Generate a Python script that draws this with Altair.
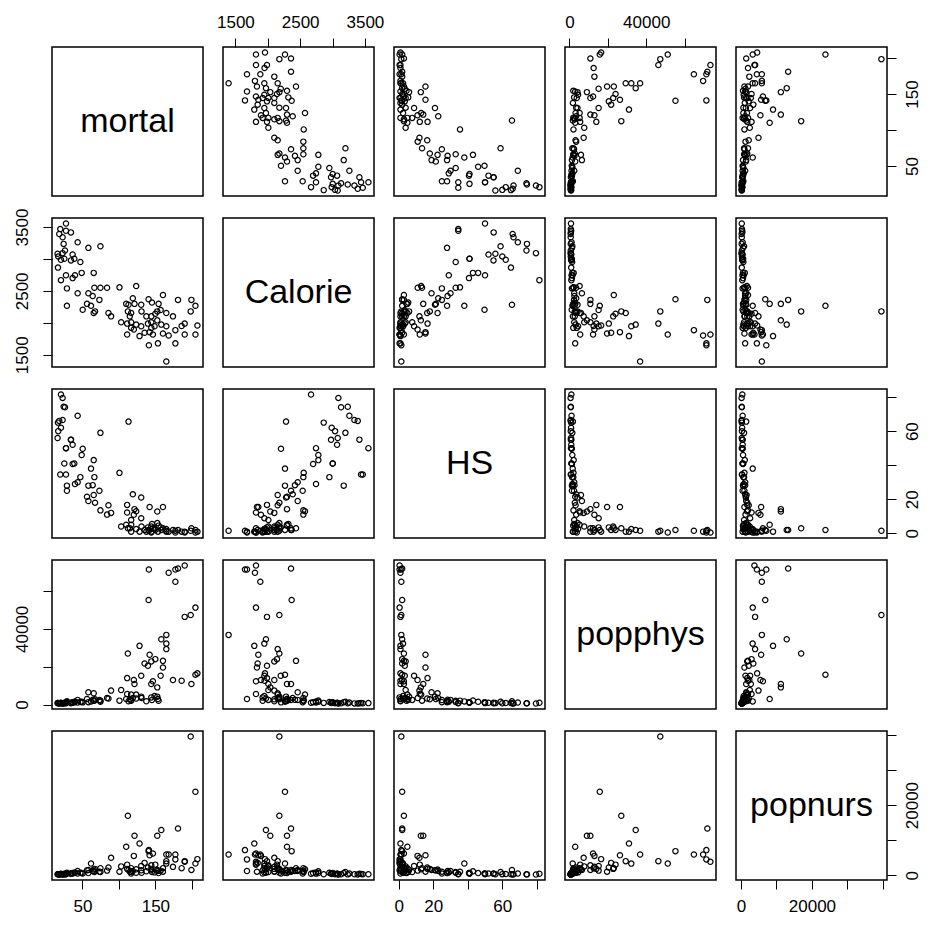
import altair as alt
import pandas as pd

# Country-level health indicators (one entry per country)
mortal = [
    27.5, 19.7, 27.5, 34.3, 18.3, 43.5, 58.2, 74.7, 16.0, 16.9,
    22.9, 26.1, 20.6, 25.2, 36.6, 38.9, 47.2, 16.5, 20.6, 27.5,
    39.8, 49.0, 65.5, 28.8, 43.5, 58.2, 66.4, 74.7, 83.8, 28.8,
    50.4, 56.3, 61.8, 65.5, 67.3, 73.3, 85.7, 89.3, 22.9, 24.3,
    34.3, 64.1, 36.6,
    100.8, 103.1, 110.0, 112.3, 111.3, 111.3, 113.2, 116.8, 116.8, 119.1,
    120.5, 121.4, 123.7, 123.7, 128.3, 130.6, 130.6, 135.2, 139.8, 140.7,
    141.1, 142.1, 144.4, 144.4, 145.3, 146.6, 149.9, 152.6, 152.6, 153.5,
    154.4, 158.1, 160.4, 160.4, 165.0, 165.0, 165.0, 168.2, 174.1, 177.4,
    177.4, 181.0, 190.2, 190.2, 198.4, 199.4, 207.6, 204.9, 204.9, 115.0,
    131.0, 137.6, 148.9, 116.8, 144.4, 186.0, 157.2,
]
calorie = [
    3554, 3467, 3441, 3415, 3389, 3260, 3173, 3199, 3080, 3039,
    3090, 3132, 2987, 3003, 3070, 3003, 2951, 2864, 2668, 2745,
    2745, 2781, 2781, 2539, 2462, 2462, 2549, 2549, 2549, 2266,
    2204, 2297, 2266, 2153, 2179, 2359, 2153, 2101, 3338, 3235,
    2977, 2420, 2700,
    2555, 2009, 2297, 2179, 1988, 1818, 2282, 2153, 2009, 2385,
    1895, 2297, 2575, 1972, 1792, 2282, 1947, 1844, 1988, 2369,
    1648, 1854, 2101, 2009, 2318, 1818, 2142, 2179, 2039, 1679,
    2297, 1972, 2436, 1833, 2153, 1947, 1395, 1802, 2101, 1885,
    1679, 2359, 1988, 1818, 2179, 2359, 1957, 1818, 2266, 2101,
    2179, 2101, 1947, 1921, 1921, 1950, 2200,
]
hs = [
    50.0, 34.5, 34.5, 55.0, 66.0, 69.0, 28.0, 59.0, 56.0, 60.0,
    79.5, 74.0, 62.0, 41.0, 52.0, 41.0, 33.0, 65.0, 81.5, 50.0,
    29.0, 46.0, 43.0, 25.0, 30.0, 19.0, 33.0, 13.5, 11.0, 28.0,
    49.7, 21.5, 38.0, 22.5, 18.0, 25.0, 16.5, 12.0, 66.5, 74.3,
    54.9, 28.3, 40.7,
    35.5, 4.0, 5.0, 3.0, 16.7, 12.2, 65.6, 5.0, 7.8, 22.9,
    10.9, 14.2, 13.0, 2.5, 1.0, 21.0, 8.9, 2.0, 3.5, 2.0,
    1.5, 15.5, 4.0, 1.0, 5.5, 3.0, 2.0, 6.0, 12.8, 1.0,
    4.5, 2.0, 3.0, 15.5, 1.0, 2.5, 1.5, 1.0, 2.0, 1.5,
    0.5, 2.0, 1.0, 0.5, 1.5, 3.0, 1.0, 0.5, 2.0, 3.0,
    4.0, 1.0, 2.5, 1.0, 0.5, 1.0, 3.5,
]
popphys = [
    800, 700, 900, 750, 650, 1100, 1300, 1500, 800, 700,
    600, 700, 850, 1000, 950, 1200, 1400, 900, 1000, 1100,
    1600, 1500, 2200, 1300, 2500, 6500, 2000, 2100, 3500, 1800,
    1200, 3000, 1700, 6000, 2800, 2400, 3200, 7400, 650, 700,
    1000, 2600, 1300,
    2100, 7700, 3000, 27000, 14000, 5600, 1800, 5300, 2500, 3500,
    13000, 10900, 5300, 3200, 31000, 4200, 15200, 21700, 20500, 55200,
    71300, 26300, 22800, 10900, 2450, 12300, 24000, 4200, 9100, 3000,
    2000, 34500, 23100, 19600, 29300, 32200, 36800, 69600, 13000, 64800,
    71300, 71800, 46300, 73400, 47300, 10900, 16500, 51200, 15800, 2800,
    3500, 1800, 4500, 2000, 3800, 12600, 15200,
]
popnurs = [
    250, 300, 350, 400, 220, 500, 600, 900, 250, 300,
    200, 280, 350, 420, 500, 650, 700, 260, 400, 450,
    800, 600, 1100, 500, 1200, 1500, 900, 2000, 1300, 700,
    500, 1400, 3330, 1600, 1800, 1000, 2200, 4950, 250, 230,
    500, 1200, 600,
    1000, 2500, 8100, 16960, 1800, 3000, 1500, 2000, 900, 1200,
    5500, 11250, 1700, 700, 9050, 1400, 2600, 3500, 2200, 6860,
    7150, 5700, 1800, 2800, 900, 6200, 3000, 1500, 11250, 1200,
    600, 12900, 2000, 1000, 4000, 3300, 5900, 5900, 2380, 5900,
    4500, 13300, 4000, 3810, 39550, 1500, 4580, 3340, 23800, 1000,
    700, 1100, 800, 500, 1400, 2000, 1300,
]

names = ["mortal", "Calorie", "HS", "popphys", "popnurs"]
df = pd.DataFrame({
    "mortal": mortal, "Calorie": calorie, "HS": hs,
    "popphys": popphys, "popnurs": popnurs,
})

# tick positions and the subset that carries a printed label
tick_values = {
    "mortal": [50, 100, 150, 200],
    "Calorie": [1500, 2000, 2500, 3000, 3500],
    "HS": [0, 20, 40, 60, 80],
    "popphys": [0, 20000, 40000, 60000],
    "popnurs": [0, 10000, 20000, 30000, 40000],
}
tick_labels = {
    "mortal": [50, 150],
    "Calorie": [1500, 2500, 3500],
    "HS": [0, 20, 60],
    "popphys": [0, 40000],
    "popnurs": [0, 20000],
}

W, H = 151, 149
FONT = "Liberation Sans"
LABEL_PAD = {"top": 7, "bottom": 9, "left": 12, "right": 8}


def domain(var):
    lo, hi = float(df[var].min()), float(df[var].max())
    pad = 0.04 * (hi - lo)
    return [lo - pad, hi + pad]


def make_axis(var, orient):
    cond = " || ".join(f"datum.value == {v}" for v in tick_labels[var])
    kw = dict(
        orient=orient,
        values=tick_values[var],
        format="d",
        labelExpr=f"({cond}) ? datum.label : ''",
        tickSize=9,
        tickColor="black",
        tickWidth=1,
        labelPadding=LABEL_PAD[orient],
        labelFontSize=17,
        labelFont=FONT,
        labelColor="black",
        labelOverlap=False,
        labelFlush=False,
        grid=False,
        domain=False,
        title=None,
    )
    if orient in ("left", "right"):
        kw["labelAngle"] = 270
    return alt.Axis(**kw)


def panel(i, j):
    yv, xv = names[i], names[j]
    xaxis = None
    if i == 0 and j in (1, 3):
        xaxis = make_axis(xv, "top")
    if i == 4 and j in (0, 2, 4):
        xaxis = make_axis(xv, "bottom")
    yaxis = None
    if j == 0 and i in (1, 3):
        yaxis = make_axis(yv, "left")
    if j == 4 and i in (0, 2, 4):
        yaxis = make_axis(yv, "right")

    x = alt.X(f"{xv}:Q", scale=alt.Scale(domain=domain(xv), nice=False, zero=False), axis=xaxis)
    y = alt.Y(f"{yv}:Q", scale=alt.Scale(domain=domain(yv), nice=False, zero=False), axis=yaxis)

    if i == j:
        ghost = alt.Chart(df).mark_point(opacity=0).encode(x=x, y=y)
        label = alt.Chart(pd.DataFrame({"name": [xv]})).mark_text(
            font=FONT, fontSize=34, color="black", align="center", baseline="middle"
        ).encode(text="name:N", x=alt.value(W / 2), y=alt.value(H / 2))
        return alt.layer(ghost, label).properties(width=W, height=H)

    return alt.Chart(df).mark_point(
        shape="circle", filled=False, size=28, color="black", strokeWidth=1.2, opacity=1
    ).encode(x=x, y=y).properties(width=W, height=H)


panels = [panel(i, j) for i in range(5) for j in range(5)]
chart = alt.concat(
    *panels, columns=5, spacing=alt.RowColnumber(row=22, column=20), bounds="flush"
).properties(
    padding={"left": 12, "top": 12, "right": 5, "bottom": 5},
    background="white",
).configure_axis(
    grid=False
).configure_view(
    stroke="black", strokeWidth=1.5
)

chart.save("out.html", embed_options={"renderer": "svg", "actions": False})
